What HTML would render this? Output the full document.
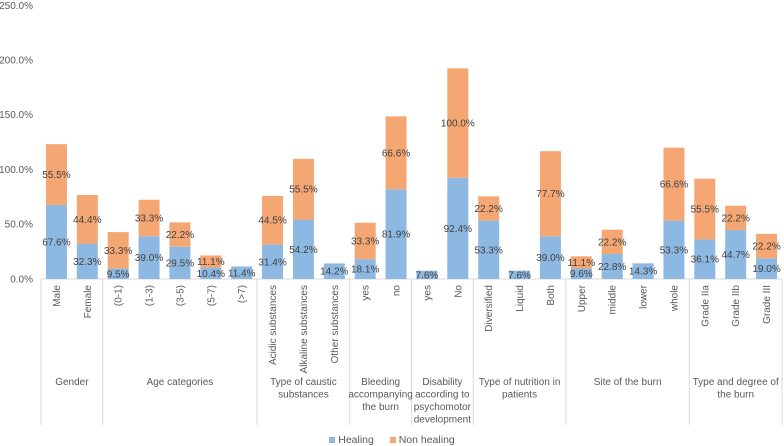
<!DOCTYPE html>
<html><head><meta charset="utf-8"><style>
html,body{margin:0;padding:0;background:#fff;overflow:hidden;}
svg{display:block;font-family:"Liberation Sans",sans-serif;}
</style></head><body>
<svg id="chart" width="784" height="446" viewBox="0 0 784 446"></svg>
<script>
const categories=["Male","Female","(0-1)","(1-3)","(3-5)","(5-7)","(>7)","Acidic substances","Alkaline substances","Other substances","yes","no","yes","No","Diversified","Liquid","Both","Upper","middle","lower","whole","Grade IIa","Grade IIb","Grade III"];
const healing=[67.6,32.3,9.5,39.0,29.5,10.4,11.4,31.4,54.2,14.2,18.1,81.9,7.6,92.4,53.3,7.6,39.0,9.6,22.8,14.3,53.3,36.1,44.7,19.0];
const nonHealing=[55.5,44.4,33.3,33.3,22.2,11.1,0,44.5,55.5,0,33.3,66.6,0,100.0,22.2,0,77.7,11.1,22.2,0,66.6,55.5,22.2,22.2];
const groupNames=[["Gender"],["Age categories"],["Type of caustic","substances"],["Bleeding","accompanying","the burn"],["Disability","according to","psychomotor","development"],["Type of nutrition in","patients"],["Site of the burn"],["Type and degree of","the burn"]];
const groupSizes=[2,5,3,2,2,3,4,3];
const yTicks=[0,50,100,150,200,250];

const svg=document.getElementById('chart');
const NS='http://www.w3.org/2000/svg';
const x0=41,x1=782,y0=279,yTop=5.2,yMax=250;
const slot=(x1-x0)/categories.length;
const barW=21;
function y(v){return y0-(v/yMax)*(y0-yTop);}
function xc(i){return x0+slot*(i+0.5);}
function mk(tag,attrs,parent){const e=document.createElementNS(NS,tag);for(const k in attrs)e.setAttribute(k,attrs[k]);(parent||svg).appendChild(e);return e;}

yTicks.forEach(t=>{
  const e=mk('text',{x:33,y:Math.max(y(t)+3.5,9),'text-anchor':'end','font-size':'10',fill:'#595959'});
  
  
  e.textContent=t.toFixed(1)+'%';
});
const ax=mk('line',{x1:x0,x2:x1,y1:y0,y2:y0,stroke:'#d9d9d9','stroke-width':1});



categories.forEach((c,i)=>{
  const cx=xc(i);
  const hb=mk('rect',{x:cx-barW/2,y:y(healing[i]),width:barW,height:y0-y(healing[i]),fill:'#8db8e2'});
  
  
  if(nonHealing[i]>0){
    const nb=mk('rect',{x:cx-barW/2,y:y(healing[i]+nonHealing[i]),width:barW,height:y(healing[i])-y(healing[i]+nonHealing[i]),fill:'#f4a673'});
    
    
    const nl=mk('text',{x:cx,y:(y(healing[i])+y(healing[i]+nonHealing[i]))/2+3.5,'text-anchor':'middle','font-size':'10',fill:'#404040'});
    
    
    nl.textContent=nonHealing[i].toFixed(1)+'%';
  }
  const hl=mk('text',{x:cx,y:(y0+y(healing[i]))/2+3.5,'text-anchor':'middle','font-size':'10',fill:'#404040'});
  
  
  hl.textContent=healing[i].toFixed(1)+'%';
  const cl=mk('text',{x:0,y:0,'text-anchor':'end','font-size':'10',fill:'#595959',transform:`translate(${cx+3.5},285) rotate(-90)`});
  
  
  cl.textContent=c;
});

let start=0;
const bounds=[0];
groupSizes.forEach(s=>{start+=s;bounds.push(start);});
bounds.forEach(b=>{
  const l=mk('line',{x1:x0+b*slot,x2:x0+b*slot,y1:y0,y2:425,stroke:'#d9d9d9','stroke-width':1});
  
  
});
groupNames.forEach((g,gi)=>{
  const cx=x0+slot*(bounds[gi]+bounds[gi+1])/2;
  const t=mk('text',{x:cx,y:385,'text-anchor':'middle','font-size':'10',fill:'#595959'});
  
  
  g.forEach((line,li)=>{const ts=mk('tspan',{x:cx,y:385+li*12.5},t);ts.textContent=line;});
});
</script>
<div style="position:absolute;top:434px;left:0;width:784px;text-align:center;font-family:'Liberation Sans',sans-serif;font-size:10.5px;color:#595959;">
<span><span style="display:inline-block;width:6px;height:6px;background:#8db8e2;margin-right:3px;"></span>Healing</span>
<span style="display:inline-block;width:10px"></span>
<span><span style="display:inline-block;width:6px;height:6px;background:#f4a673;margin-right:3px;"></span>Non healing</span>
</div>
</body></html>
